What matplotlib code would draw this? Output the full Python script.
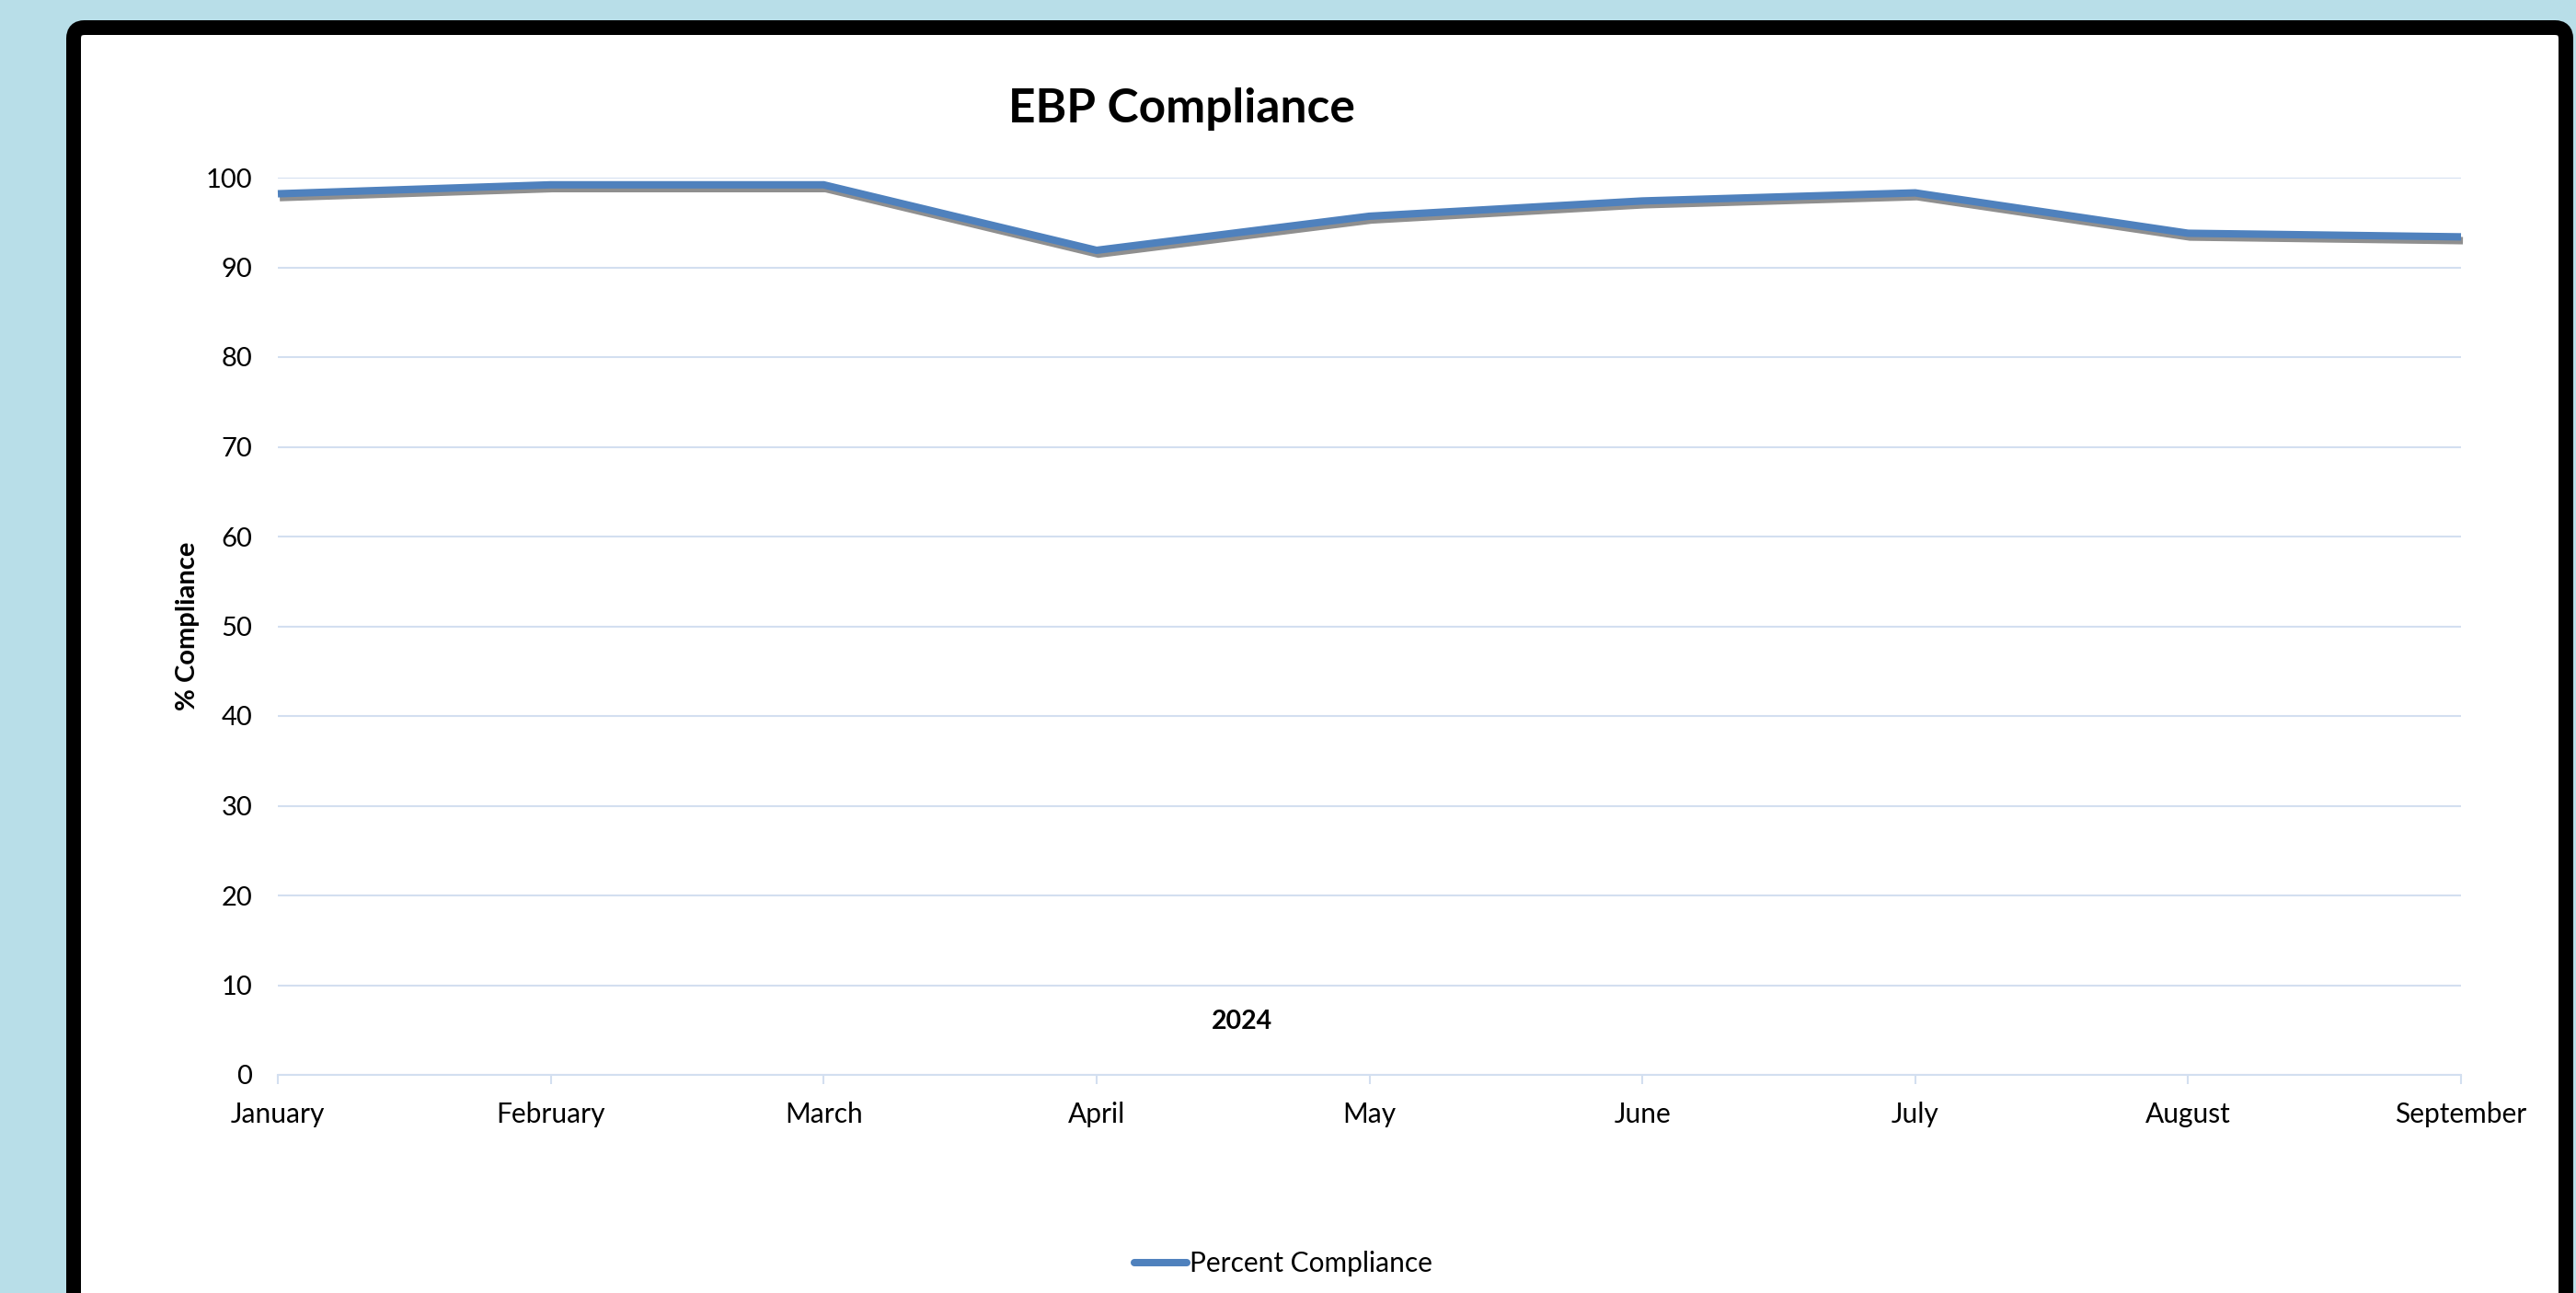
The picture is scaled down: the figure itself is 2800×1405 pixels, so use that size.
import numpy as np
import matplotlib
matplotlib.use('Agg')
import matplotlib.pyplot as plt
import matplotlib.patheffects as pe
from matplotlib.patches import FancyBboxPatch
from matplotlib.lines import Line2D

# data
months = ['January', 'February', 'March', 'April', 'May', 'June', 'July', 'August', 'September']
compliance = [98.2, 99.2, 99.2, 91.9, 95.7, 97.4, 98.3, 93.8, 93.4]
y_ticks = [0, 10, 20, 30, 40, 50, 60, 70, 80, 90, 100]

plt.rcParams['font.family'] = ['Lato', 'DejaVu Sans']

W, H, DPI = 2800, 1405, 100
fig = plt.figure(figsize=(W / DPI, H / DPI), dpi=DPI)
fig.set_facecolor('#B8DEE8')

# white card with the black border (runs off the bottom of the image)
card = FancyBboxPatch((80 / DPI, -0.6), (2789 - 80) / DPI, (H - 30) / DPI + 0.6,
                      boxstyle='round,pad=0,rounding_size=0.12',
                      facecolor='white', edgecolor='black', linewidth=16 * 72 / DPI,
                      transform=fig.dpi_scale_trans, zorder=-10)
fig.patches.append(card)

# plot area in pixels of the reference
left, right, top, bottom = 302, 2675, 193, 1168
ax = fig.add_axes([left / W, 1 - bottom / H, (right - left) / W, (bottom - top) / H])
ax.set_facecolor('none')

line_color = '#4F81BD'
grid_color = '#D3DFF0'
x = np.arange(len(months))

ax.plot(x, compliance, color=line_color, linewidth=5.8, solid_joinstyle='miter',
        solid_capstyle='butt', zorder=5, clip_on=False,
        path_effects=[pe.SimpleLineShadow(offset=(1.5, -3), shadow_color='#444444', alpha=0.6),
                      pe.Normal()])

ax.set_xlim(0, len(months) - 1)
ax.set_ylim(0, 100)
ax.set_yticks(y_ticks)
ax.set_xticks(x)
ax.set_xticklabels(months)

ax.grid(axis='y', color=grid_color, linewidth=1.5, zorder=0)
ax.set_axisbelow(True)
for s in ['top', 'right', 'left']:
    ax.spines[s].set_visible(False)
ax.spines['bottom'].set_color(grid_color)
ax.spines['bottom'].set_linewidth(1.5)

ax.tick_params(axis='y', length=0, pad=20, labelsize=21, labelcolor='black')
ax.tick_params(axis='x', length=7, width=1.5, color=grid_color, pad=14, labelsize=21.5, labelcolor='black')

ax.set_ylabel('% Compliance', fontsize=21, fontweight='bold')
ax.yaxis.set_label_coords(-0.036, 0.5)

fig.text(1284 / W, 1 - 119 / H, 'EBP Compliance', fontsize=37, fontweight='bold',
         ha='center', va='center')
fig.text(1350 / W, 1 - 1110 / H, '2024', fontsize=20.5, fontweight='bold',
         ha='center', va='center')

handle = Line2D([], [], color=line_color, linewidth=5.8, solid_capstyle='round')
fig.legend([handle], ['Percent Compliance'], loc='center',
           bbox_to_anchor=(1395 / W, 1 - 1373 / H), frameon=False,
           fontsize=21.5, handlelength=1.9, handletextpad=0.1)

fig.savefig('out.png', dpi=DPI, facecolor=fig.get_facecolor())
